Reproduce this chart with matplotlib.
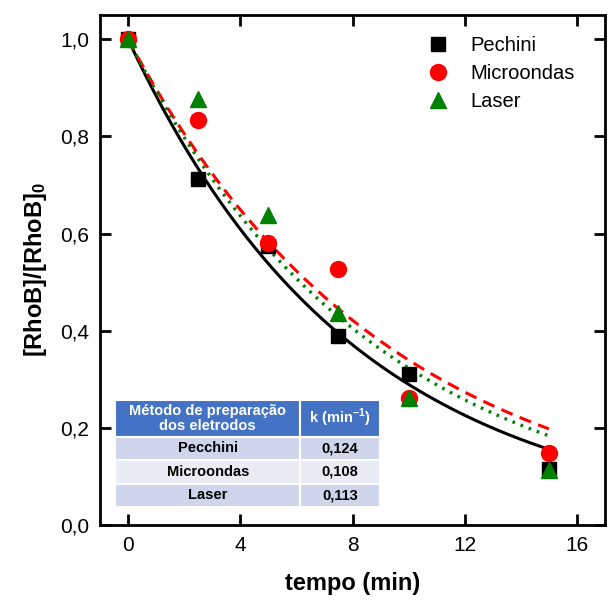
import numpy as np
import matplotlib
matplotlib.use("Agg")
import matplotlib.pyplot as plt

plt.rcParams['font.family'] = ['Liberation Sans', 'DejaVu Sans']
plt.rcParams['mathtext.fontset'] = 'custom'
plt.rcParams['mathtext.rm'] = 'Liberation Sans'
plt.rcParams['mathtext.bf'] = 'Liberation Sans:bold'

# measured decay of [RhoB]/[RhoB]0 for each electrode preparation
tempo = [0, 2.5, 5, 7.5, 10, 15]
pechini = [1.0, 0.712, 0.574, 0.390, 0.311, 0.115]
microondas = [1.0, 0.834, 0.581, 0.526, 0.261, 0.149]
laser = [1.0, 0.878, 0.638, 0.436, 0.262, 0.113]

# first-order rate constants (min^-1)
metodos = ['Pecchini', 'Microondas', 'Laser']
k_vals = [0.124, 0.108, 0.113]

fig = plt.figure(figsize=(6.08, 6.01), dpi=100)
ax = fig.add_axes([0.1645, 0.1265, 0.8306, 0.8486])

t = np.linspace(0, 15, 200)
ax.plot(t, np.exp(-k_vals[0] * t), color='black', lw=2.2, ls='-', zorder=2)
ax.plot(t, np.exp(-k_vals[1] * t), color='red', lw=2.2, ls=(0, (4, 2.5)), zorder=2)
ax.plot(t, np.exp(-k_vals[2] * t), color='green', lw=2.4, ls=(0, (0.8, 1.8)), zorder=2)

ax.plot(tempo, pechini, 's', color='black', ms=10, ls='none', label='Pechini', zorder=3)
ax.plot(tempo, microondas, 'o', color='red', ms=11.5, ls='none', label='Microondas', zorder=3)
ax.plot(tempo, laser, '^', color='green', ms=12, ls='none', label='Laser', zorder=4)

ax.set_xlim(-1, 17)
ax.set_ylim(0, 1.05)
ax.set_xticks([0, 4, 8, 12, 16])
ax.set_yticks([0, 0.2, 0.4, 0.6, 0.8, 1.0])
ax.set_yticklabels(['0,0', '0,2', '0,4', '0,6', '0,8', '1,0'])
ax.tick_params(direction='in', length=8, width=2, labelsize=15, top=True, right=True, pad=8)
for s in ax.spines.values():
    s.set_linewidth(2)

ax.set_xlabel('tempo (min)', fontsize=17, fontweight='bold', labelpad=12)
ax.set_ylabel(r'$\mathbf{[RhoB]/[RhoB]_0}$', fontsize=17, labelpad=8)

ax.legend(loc='upper right', frameon=False, fontsize=14.5, handletextpad=0.6,
          labelspacing=0.45, borderaxespad=0.5, bbox_to_anchor=(0.975, 0.995))

# rate-constant table
cell_text = [[m, f'{k:.3f}'.replace('.', ',')] for m, k in zip(metodos, k_vals)]
header = ['Método de preparação\ndos eletrodos', 'k (min$^{\\mathregular{-1}}$)']
row_colors = ['#cfd5ea', '#e9ebf5', '#cfd5ea']
tab = ax.table(cellText=cell_text, colLabels=header,
               cellColours=[[c, c] for c in row_colors],
               colColours=['#4472c4', '#4472c4'],
               cellLoc='center', colWidths=[0.7, 0.3],
               bbox=[0.03, 0.035, 0.524, 0.21], zorder=5)
tab.auto_set_font_size(False)
for (r, c), cell in tab.get_celld().items():
    cell.set_edgecolor('white')
    cell.set_linewidth(1.5)
    cell.get_text().set_fontsize(10.5)
    cell.get_text().set_fontweight('bold')
    if r == 0:
        cell.get_text().set_color('white')
        cell.get_text().set_linespacing(1.1)
        cell.set_height(cell.get_height() * 1.55)

fig.savefig('out.png', dpi=100)
